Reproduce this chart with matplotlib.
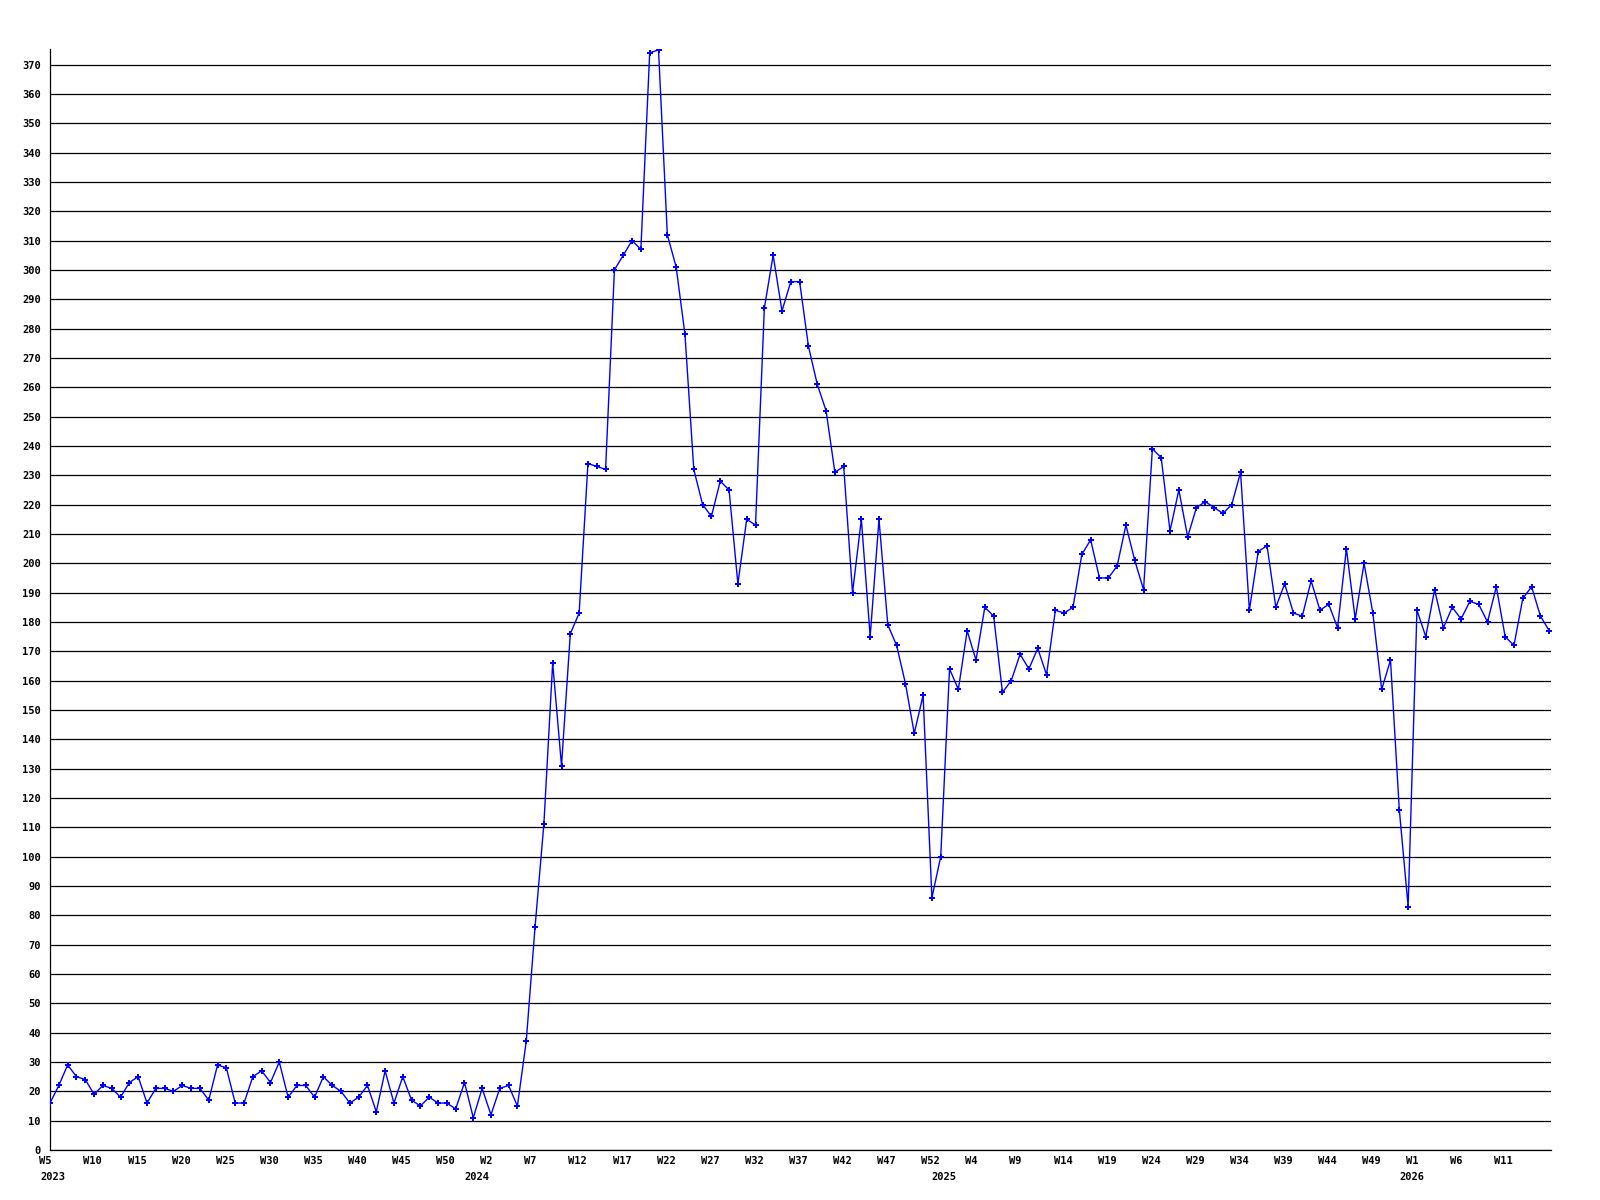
import matplotlib
matplotlib.use("Agg")
import matplotlib.pyplot as plt
import matplotlib.transforms as mtransforms

# ---- data (weekly values, 2023 W5 onwards) ----
values_2023 = [16, 22, 29, 25, 24, 19, 22, 21, 18, 23, 25, 16, 21, 21, 20, 22, 21, 21,
               17, 29, 28, 16, 16, 25, 27, 23, 30, 18, 22, 22, 18, 25, 22, 20, 16, 18,
               22, 13, 27, 16, 25, 17, 15, 18, 16, 16, 14, 23, 11]
values_2024 = [21, 12, 21, 22, 15, 37, 76, 111, 166, 131, 176, 183, 234, 233, 232, 300,
               305, 310, 307, 374, 375, 312, 301, 278, 232, 220, 216, 228, 225, 193, 215,
               213, 287, 305, 286, 296, 296, 274, 261, 252, 231, 233, 190, 215, 175, 215,
               179, 172, 159, 142, 155, 86, 100]
values_2025 = [164, 157, 177, 167, 185, 182, 156, 160, 169, 164, 171, 162, 184, 183, 185,
               203, 208, 195, 195, 199, 213, 201, 191, 239, 236, 211, 225, 209, 219, 221,
               219, 217, 220, 231, 184, 204, 206, 185, 193, 183, 182, 194, 184, 186, 178,
               205, 181, 200, 183, 157, 167, 116, 83]
values_2026 = [184, 175, 191, 178, 185, 181, 187, 186, 180, 192, 175, 172, 188, 192, 182, 177]

values = values_2023 + values_2024 + values_2025 + values_2026

week_tick_labels = ["W5", "W10", "W15", "W20", "W25", "W30", "W35", "W40", "W45", "W50",
                    "W2", "W7", "W12", "W17", "W22", "W27", "W32", "W37", "W42", "W47", "W52",
                    "W4", "W9", "W14", "W19", "W24", "W29", "W34", "W39", "W44", "W49",
                    "W1", "W6", "W11"]
year_labels = ["2023", "2024", "2025", "2026"]
year_start_index = [0, len(values_2023), len(values_2023) + len(values_2024),
                    len(values_2023) + len(values_2024) + len(values_2025)]
y_ticks = list(range(0, 371, 10))

# ---- figure ----
W, H = 1600, 1200
fig = plt.figure(figsize=(16, 12), dpi=100)
fig.patch.set_facecolor("white")
ax = fig.add_axes([50 / W, 1 - 1150 / H, 1501 / W, (1150 - 49) / H])

font = dict(family="DejaVu Sans Mono", weight="bold", size=7.5)

x = list(range(len(values)))
ax.plot(x, values, color="#0000ff", lw=1.0, marker="P", ms=4, mew=0, zorder=3)

ax.set_xlim(0, 170.2)
ax.set_ylim(0, 375.3)
ax.set_yticks(y_ticks)
ax.set_yticklabels([str(v) for v in y_ticks], fontdict=font)
ax.yaxis.grid(True, color="black", lw=0.9)
ax.set_axisbelow(True)
ax.set_xticks([])
for s in ["top", "right"]:
    ax.spines[s].set_visible(False)
for s in ["left", "bottom"]:
    ax.spines[s].set_color("black")
    ax.spines[s].set_linewidth(0.9)
ax.tick_params(axis="y", length=0, pad=6.5)

trans = mtransforms.blended_transform_factory(ax.transData, fig.transFigure)
for k, lab in enumerate(week_tick_labels):
    ax.text(5 * k - 1.21, 1 - 1161 / H, lab, transform=trans, ha="left", va="center",
            clip_on=False, **font)
for k, (lab, idx) in enumerate(zip(year_labels, year_start_index)):
    xpos = idx + 0.35 if k == 0 else idx - 0.6
    ax.text(xpos, 1 - 1177 / H, lab, transform=trans, ha="center", va="center",
            clip_on=False, **font)

fig.savefig("out.png", dpi=100, facecolor="white")
